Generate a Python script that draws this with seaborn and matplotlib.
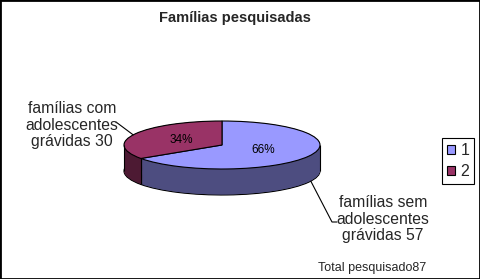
import numpy as np
import matplotlib
matplotlib.use("Agg")
import matplotlib.pyplot as plt
import seaborn as sns
from matplotlib.patches import Rectangle

# ---- data ----
categories = ["1", "2"]
values = [57, 30]
outer_labels = ["famílias sem\nadolescentes\ngrávidas 57",
                "famílias com\nadolescentes\ngrávidas 30"]
title = "Famílias pesquisadas"
footer = "Total pesquisado87"

# ---- style ----
top_colors = ["#9999FF", "#993366"]
side_colors = ["#4D4D80", "#4D1A33"]

sns.set_theme(style="white")
plt.rcParams["font.family"] = ["Liberation Sans", "DejaVu Sans"]

W, H = 480, 279
fig = plt.figure(figsize=(W / 100, H / 100), dpi=100)
fig.patch.set_facecolor("white")

# pie geometry in pixels (ellipse center, radii, extrusion depth)
cx, cy, rx, ry, depth = 222, 145, 98, 24, 26
d = depth / ry

ax = fig.add_axes([0, 0, 1, 1])

# extruded side: stacked darker pies
layers = np.linspace(d, 0, 50)
for i, off in enumerate(layers):
    lw = 0.8 if i == 0 else 0
    ax.pie(values, colors=side_colors, startangle=90, counterclock=False,
           center=(0, -off), radius=1,
           wedgeprops=dict(linewidth=lw, edgecolor="black"))

# top face
wedges, texts, autotexts = ax.pie(
    values, colors=top_colors, startangle=90, counterclock=False,
    center=(0, 0), radius=1, autopct="%1.0f%%", pctdistance=0.47,
    wedgeprops=dict(linewidth=0.8, edgecolor="black"),
    textprops=dict(fontsize=8.5, color="black"))

# vertical edges of the side wall
bounds = 90 - 360 * np.cumsum([0] + values) / sum(values)
xs, ys = [-1.0, 1.0], [0.0, 0.0]
for b in bounds:
    r = np.deg2rad(b)
    if np.sin(r) < -1e-6:
        xs.append(np.cos(r))
        ys.append(np.sin(r))
ys = np.array(ys)
ax.vlines(xs, ys - d, ys, colors="black", linewidth=0.8)

ax.set_aspect("auto")
ax.set_xlim(-cx / rx, (W - cx) / rx)
ax.set_ylim(-(H - cy) / ry, cy / ry)
ax.axis("off")

leg = ax.legend(wedges, categories, loc="upper right",
                bbox_to_anchor=(474 / W, 1 - 138 / H), bbox_transform=fig.transFigure,
                frameon=True, fancybox=False, edgecolor="black", framealpha=1,
                fontsize=11.5, handlelength=0.5, handleheight=0.5,
                handletextpad=0.35, borderpad=0.3, labelspacing=0.4,
                borderaxespad=0)
leg.get_frame().set_linewidth(0.8)

# overlay in pixel coordinates for text and leader lines
ov = fig.add_axes([0, 0, 1, 1], facecolor="none")
ov.set_xlim(0, W)
ov.set_ylim(H, 0)
ov.axis("off")

ov.text(235, 18, title, ha="center", va="center", fontsize=10.5, fontweight="bold")

ov.text(72, 125, outer_labels[1], ha="center", va="center", fontsize=11.3,
        linespacing=1.1, multialignment="center")
ov.text(383, 219, outer_labels[0], ha="center", va="center", fontsize=11.3,
        linespacing=1.1, multialignment="center")

# leader lines from pie edge to labels
a_red = np.deg2rad(155)
ov.plot([116, cx + rx * np.cos(a_red)], [122, cy - ry * np.sin(a_red)],
        color="black", linewidth=0.8)
a_blue = np.deg2rad(-25)
bx, by = cx + rx * np.cos(a_blue), cy - ry * np.sin(a_blue) + depth
ov.plot([bx, 332, 337], [by, 222, 222], color="black", linewidth=0.8)

ov.text(372, 268, footer, ha="center", va="center", fontsize=9)

fig.add_artist(Rectangle((0, 0), 1, 1, transform=fig.transFigure, fill=False,
                         edgecolor="black", linewidth=2))

fig.savefig("out.png", dpi=100)
